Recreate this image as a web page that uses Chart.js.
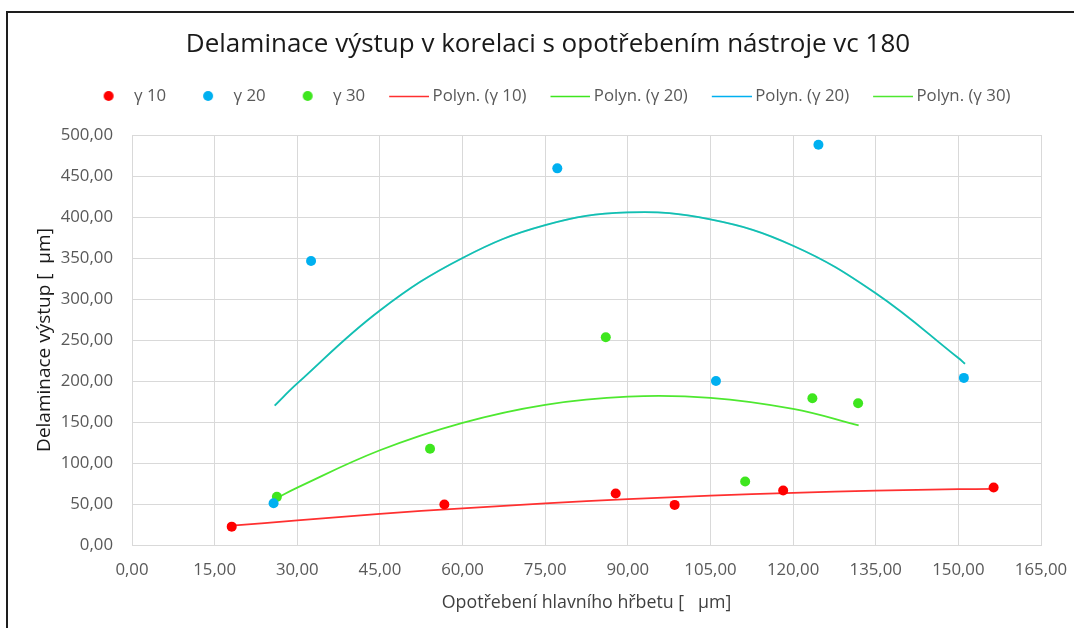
<!DOCTYPE html>
<html>
<head>
<meta charset="utf-8">
<script src="https://cdn.jsdelivr.net/npm/chart.js@4/dist/chart.umd.min.js"></script>
<style>
  html, body { margin: 0; padding: 0; background: #fff; }
</style>
</head>
<body>
<canvas id="myChart" width="1074" height="628"></canvas>
<script>
// measured points, x = wear [µm], y = delamination [µm]
const g10X = [18.1, 56.7, 87.8, 98.5, 118.2, 156.4]
const g10Y = [22.4, 49.3, 62.7, 48.9, 66.4, 70.1]

const g20X = [25.7, 32.5, 77.2, 106.0, 124.6, 151.0]
const g20Y = [51.0, 346.4, 459.3, 200.1, 488.1, 203.8]

const g30X = [26.3, 54.1, 86.0, 111.3, 123.5, 131.8]
const g30Y = [58.7, 117.4, 253.4, 77.4, 178.9, 172.8]

// polynomial trend curves as plotted
const poly10X = [18.1, 30, 45, 60, 75, 90, 105, 120, 135, 150, 156.4]
const poly10Y = [23.5, 30, 38, 44.7, 50.7, 55.8, 60.1, 63.6, 66.2, 68, 68.5]

const poly20X = [25.9, 30, 45, 60, 75, 90, 105, 120, 135, 150, 151.2]
const poly20Y = [170, 197, 286, 350, 390, 405.5, 397, 365, 307, 228, 221]

const poly30X = [26.5, 30, 45, 60, 75, 90, 105, 120, 131.9]
const poly30Y = [57.8, 70, 115.5, 149, 171, 181, 179.5, 166, 146]

const xTicks = [0, 165, 15]   // min, max, step
const yTicks = [0, 500, 50]

const RED = '#ff0000'
const BLUE = '#00b0f0'
const GREEN = '#3ee61e'

const FONT = '"Open Sans", Lato, sans-serif'

function pts(xs, ys) {
  return xs.map((x, i) => ({ x: x, y: ys[i] }))
}

function comma(v) {
  return v.toFixed(2).replace('.', ',')
}

function legendIcon(color, kind) {
  const c = document.createElement('canvas')
  c.width = 50
  c.height = 12
  const x = c.getContext('2d')
  if (kind == 'dot') {
    x.fillStyle = color
    x.beginPath()
    x.arc(28, 6, 5, 0, Math.PI * 2)
    x.fill()
  } else {
    x.strokeStyle = color
    x.lineWidth = 1.5
    x.beginPath()
    x.moveTo(10, 6.5)
    x.lineTo(50, 6.5)
    x.stroke()
  }
  return c
}

function dots(label, xs, ys, color) {
  return {
    type: 'scatter',
    label: label,
    data: pts(xs, ys),
    backgroundColor: color,
    borderColor: color,
    pointRadius: 5,
    pointHoverRadius: 5,
    borderWidth: 0,
    icon: legendIcon(color, 'dot')
  }
}

function trend(label, xs, ys, color, legendColor) {
  return {
    type: 'line',
    label: label,
    data: pts(xs, ys),
    borderColor: color,
    backgroundColor: color,
    borderWidth: 1.75,
    pointRadius: 0,
    fill: false,
    tension: 0.4,
    icon: legendIcon(legendColor || color, 'line')
  }
}

const data = {
  datasets: [
    dots('γ 10', g10X, g10Y, RED),
    dots('γ 20', g20X, g20Y, BLUE),
    dots('γ 30', g30X, g30Y, GREEN),
    trend('Polyn. (γ 10)', poly10X, poly10Y, '#ff3030'),
    trend('Polyn. (γ 20)', poly20X, poly20Y, 'rgba(62,230,30,0.3)', GREEN),
    trend('Polyn. (γ 20)', poly20X, poly20Y, BLUE),
    trend('Polyn. (γ 30)', poly30X, poly30Y, '#4ee830')
  ]
}

// dark frame round the chart
const frame = {
  id: 'frame',
  afterDraw(chart) {
    const c = chart.ctx
    c.save()
    c.strokeStyle = '#1e1e1e'
    c.lineWidth = 2
    c.beginPath()
    c.moveTo(7, 628)
    c.lineTo(7, 12)
    c.lineTo(1074, 12)
    c.stroke()
    c.restore()
  }
}

const whiteBg = {
  id: 'whiteBg',
  beforeDraw(chart) {
    const c = chart.ctx
    c.save()
    c.fillStyle = '#fff'
    c.fillRect(0, 0, chart.width, chart.height)
    c.restore()
  }
}

const options = {
  responsive: false,
  animation: false,
  layout: { padding: { left: 55, right: 33, top: 0, bottom: 0 } },
  plugins: {
    title: {
      display: true,
      text: 'Delaminace výstup v korelaci s opotřebením nástroje vc 180',
      color: '#1a1a1a',
      font: { family: FONT, size: 26, weight: 'normal' },
      padding: { top: 29.4, bottom: 8 }
    },
    // empty block that keeps the gap between legend and plot
    subtitle: {
      display: true,
      text: '',
      weight: 0,
      font: { size: 10 },
      padding: { top: 0, bottom: 8.6 }
    },
    legend: {
      labels: {
        usePointStyle: true,
        pointStyleWidth: 40,
        padding: 19,
        color: '#595959',
        font: { family: FONT, size: 16.8 },
        generateLabels(chart) {
          return chart.data.datasets.map((ds, i) => ({
            text: ds.label,
            pointStyle: ds.icon,
            fillStyle: ds.borderColor,
            strokeStyle: ds.borderColor,
            lineWidth: 0,
            fontColor: '#595959',
            hidden: false,
            datasetIndex: i
          }))
        }
      }
    },
    tooltip: { enabled: false }
  },
  scales: {
    x: {
      type: 'linear',
      min: xTicks[0],
      max: xTicks[1],
      afterFit(s) {
        s.height = 83
        s.paddingLeft = 0
        s.paddingRight = 0
      },
      grid: { color: '#d9d9d9', drawTicks: false },
      border: { color: '#d9d9d9' },
      ticks: {
        stepSize: xTicks[2],
        padding: 14.9,
        color: '#595959',
        font: { family: FONT, size: 16.8 },
        maxRotation: 0,
        callback: v => comma(v)
      },
      title: {
        display: true,
        text: 'Opotřebení hlavního hřbetu [   µm]',
        color: '#404040',
        font: { family: FONT, size: 17.8 },
        padding: { top: 0, bottom: 14.3 }
      }
    },
    y: {
      type: 'linear',
      min: yTicks[0],
      max: yTicks[1],
      afterFit(s) { s.width = 77 },
      grid: { color: '#d9d9d9', drawTicks: false },
      border: { color: '#d9d9d9' },
      ticks: {
        stepSize: yTicks[2],
        padding: 19,
        color: '#595959',
        font: { family: FONT, size: 16.8 },
        callback: v => comma(v)
      },
      title: {
        display: true,
        text: 'Delaminace výstup [  µm]',
        color: '#1a1a1a',
        font: { family: FONT, size: 19 },
        padding: { top: -21.4, bottom: 0 }
      }
    }
  }
}

const ctx = document.getElementById('myChart').getContext('2d')
const myChart = new Chart(ctx, { type: 'scatter', data: data, options: options, plugins: [whiteBg, frame] })
</script>
</body>
</html>
